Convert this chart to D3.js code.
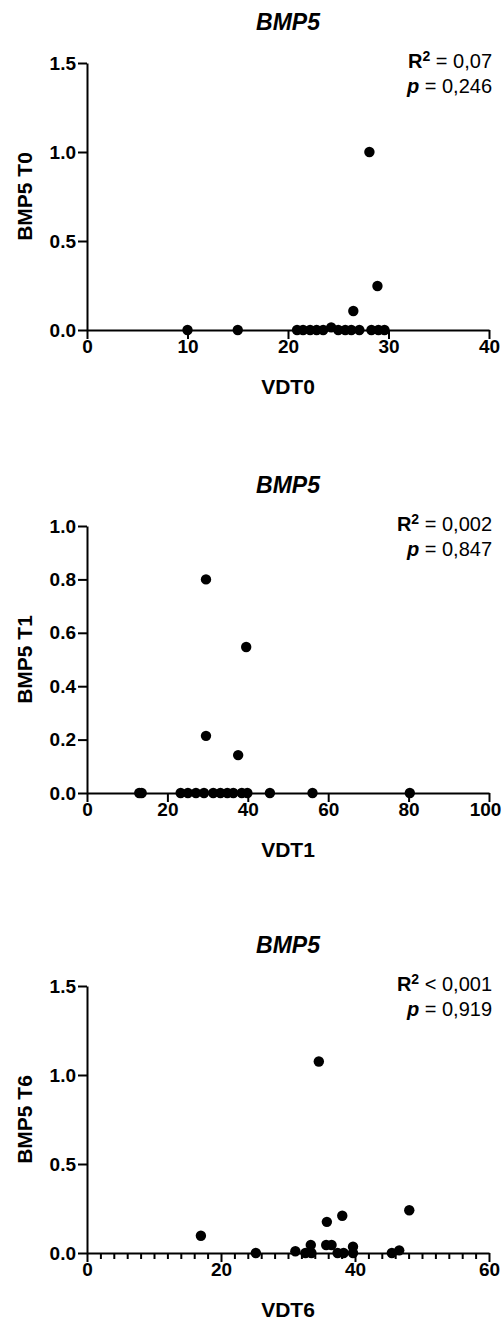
<!DOCTYPE html>
<html><head><meta charset="utf-8">
<script src="https://cdn.jsdelivr.net/npm/d3@7"></script>
<style>body{margin:0;background:#fff}svg{display:block}text{font-family:"Liberation Sans",Arial,sans-serif}</style>
</head><body>
<script>
// Panel T0
const t0X = [10.0, 15.0, 20.9, 21.5, 22.2, 22.85, 23.5, 24.3, 25.0, 25.7, 26.3, 27.1, 28.3, 29.0, 29.6, 26.5, 28.1, 28.9];
const t0Y = [0, 0, 0, 0, 0, 0, 0, 0.015, 0, 0, 0, 0, 0, 0, 0, 0.107, 1.0, 0.247];
// Panel T1
const t1X = [13.0, 13.6, 23.3, 25.1, 27.1, 29.1, 31.4, 33.2, 34.9, 36.4, 38.5, 39.9, 45.5, 56.1, 80.3, 29.6, 39.6, 29.6, 37.6];
const t1Y = [0, 0, 0, 0, 0, 0, 0, 0, 0, 0, 0, 0, 0, 0, 0, 0.80, 0.547, 0.214, 0.142];
// Panel T6
const t6X = [34.6, 17.0, 25.2, 31.1, 32.6, 33.4, 33.5, 35.7, 36.5, 35.8, 38.1, 37.4, 38.3, 39.7, 39.7, 45.5, 46.6, 48.1];
const t6Y = [1.076, 0.097, 0, 0.01, 0, 0.045, 0, 0.045, 0.045, 0.175, 0.209, 0, 0, 0.035, 0, 0, 0.015, 0.24];

const xTicks0 = [0, 10, 20, 30, 40];
const xTicks1 = [0, 20, 40, 60, 80, 100];
const xTicks6 = [0, 20, 40, 60];
const yTicks0 = [0, 0.5, 1.0, 1.5];
const yTicks1 = [0, 0.2, 0.4, 0.6, 0.8, 1.0];
const yTicks6 = [0, 0.5, 1.0, 1.5];

const titles = ["BMP5", "BMP5", "BMP5"];
const xLabels = ["VDT0", "VDT1", "VDT6"];
const yLabels = ["BMP5 T0", "BMP5 T1", "BMP5 T6"];
const r2Op = ["=", "=", "<"];
const r2Val = ["0,07", "0,002", "0,001"];
const pVal = ["0,246", "0,847", "0,919"];

const W = 503, H = 1324;
const svg = d3.select("body").append("svg").attr("width", W).attr("height", H);

const panels = [
  {xs: t0X, ys: t0Y, xmax: 40, ymax: 1.5, xt: xTicks0, yt: yTicks0, minor: null, top: 63, bottom: 330},
  {xs: t1X, ys: t1Y, xmax: 100, ymax: 1.0, xt: xTicks1, yt: yTicks1, minor: null, top: 526, bottom: 793},
  {xs: t6X, ys: t6Y, xmax: 60, ymax: 1.5, xt: xTicks6, yt: yTicks6, minor: 2, top: 986, bottom: 1253}
];

panels.forEach((p, i) => {
  const x = d3.scaleLinear().domain([0, p.xmax]).range([87, 489]);
  const y = d3.scaleLinear().domain([0, p.ymax]).range([p.bottom, p.top]);
  const g = svg.append("g");

  if (p.minor) {
    const mt = d3.range(0, p.xmax + 0.001, p.minor).filter(v => !p.xt.includes(v));
    g.append("g").attr("transform", `translate(0,${p.bottom})`)
      .call(d3.axisBottom(x).tickValues(mt).tickSize(6).tickFormat(""))
      .call(a => a.select(".domain").remove())
      .selectAll("line").attr("stroke", "#000").attr("stroke-width", 2);
  }
  const xa = g.append("g").attr("transform", `translate(0,${p.bottom})`)
    .call(d3.axisBottom(x).tickValues(p.xt).tickSize(9).tickSizeOuter(0).tickPadding(1).tickFormat(d3.format("d")));
  const ya = g.append("g").attr("transform", `translate(87,0)`)
    .call(d3.axisLeft(y).tickValues(p.yt).tickSize(9).tickSizeOuter(0).tickPadding(2).tickFormat(d3.format(".1f")));
  [xa, ya].forEach(a => {
    a.select(".domain").attr("stroke", "#000").attr("stroke-width", 2);
    a.selectAll(".tick line").attr("stroke", "#000").attr("stroke-width", 2);
    a.selectAll(".tick text").attr("fill", "#000").style("font-size", "19px").style("font-weight", "bold")
      .style("font-family", '"Liberation Sans", Arial, sans-serif');
  });
  // keep the widest last x label inside the page
  xa.selectAll(".tick text").filter(d => d >= 100).attr("dx", -4);

  g.append("g").selectAll("circle").data(p.xs.map((v, k) => [v, p.ys[k]])).join("circle")
    .attr("cx", d => x(d[0])).attr("cy", d => y(d[1])).attr("r", 5.2).attr("fill", "#000");

  g.append("text").attr("x", 288).attr("y", p.top - 33).attr("text-anchor", "middle")
    .style("font-size", "23px").style("font-weight", "bold").style("font-style", "italic").text(titles[i]);
  g.append("text").attr("x", 288).attr("y", p.bottom + 64).attr("text-anchor", "middle")
    .style("font-size", "21px").style("font-weight", "bold").text(xLabels[i]);
  g.append("text").attr("transform", `translate(32,${(p.top + p.bottom) / 2}) rotate(-90)`).attr("text-anchor", "middle")
    .style("font-size", "21px").style("font-weight", "bold").text(yLabels[i]);

  const a1 = g.append("text").attr("x", 492).attr("y", p.top + 5).attr("text-anchor", "end").style("font-size", "20px");
  a1.append("tspan").style("font-weight", "bold").text("R");
  a1.append("tspan").style("font-weight", "bold").style("font-size", "14px").attr("dy", -7).text("2");
  a1.append("tspan").attr("dy", 7).text(` ${r2Op[i]} ${r2Val[i]}`);
  const a2 = g.append("text").attr("x", 492).attr("y", p.top + 30).attr("text-anchor", "end").style("font-size", "20px");
  a2.append("tspan").style("font-weight", "bold").style("font-style", "italic").text("p");
  a2.append("tspan").text(` = ${pVal[i]}`);
});
</script>
</body></html>
